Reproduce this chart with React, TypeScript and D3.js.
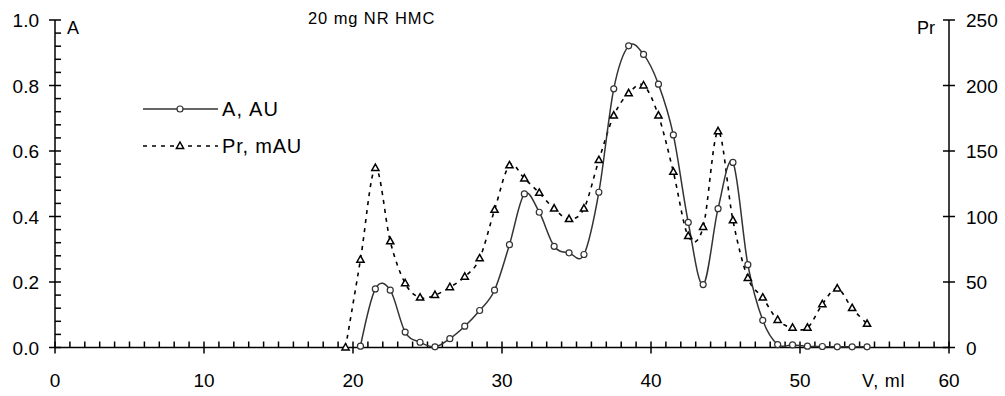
import { useEffect, useRef } from "react";
import * as d3 from "d3";

// elution volume (ml) of each absorbance reading
const volumeA = [
  20.5, 21.5, 22.5, 23.5, 24.5, 25.5, 26.5, 27.5, 28.5, 29.5, 30.5, 31.5,
  32.5, 33.5, 34.5, 35.5, 36.5, 37.5, 38.5, 39.5, 40.5, 41.5, 42.5, 43.5,
  44.5, 45.5, 46.5, 47.5, 48.5, 49.5, 50.5, 51.5, 52.5, 53.5, 54.5,
];
const absorbance = [
  0.004, 0.179, 0.175, 0.047, 0.016, 0.002, 0.027, 0.065, 0.113, 0.175,
  0.314, 0.469, 0.413, 0.309, 0.289, 0.284, 0.474, 0.79, 0.921, 0.895,
  0.804, 0.649, 0.382, 0.192, 0.424, 0.565, 0.253, 0.083, 0.009, 0.008,
  0.004, 0.003, 0.002, 0.002, 0.002,
];

// elution volume (ml) of each protein reading
const volumePr = [
  19.5, 20.5, 21.5, 22.5, 23.5, 24.5, 25.5, 26.5, 27.5, 28.5, 29.5, 30.5,
  31.5, 32.5, 33.5, 34.5, 35.5, 36.5, 37.5, 38.5, 39.5, 40.5, 41.5, 42.5,
  43.5, 44.5, 45.5, 46.5, 47.5, 48.5, 49.5, 50.5, 51.5, 52.5, 53.5, 54.5,
];
const protein = [
  0, 67, 137, 81, 49, 38, 40, 46, 54, 68, 105, 139, 129, 118, 106, 98, 106,
  143, 177, 194, 200, 177, 134, 85, 92, 165, 97, 53, 38, 21, 15, 15, 33, 45,
  30, 18,
];

const xTicks = [0, 10, 20, 30, 40, 50, 60];
const leftTicks = [0, 0.2, 0.4, 0.6, 0.8, 1.0];
const rightTicks = [0, 50, 100, 150, 200, 250];

const W = 1005;
const H = 396;
const FONT = "'Liberation Sans', Arial, sans-serif";
const DASH = "4,5";

export default function App() {
  const svgRef = useRef<SVGSVGElement>(null);

  useEffect(() => {
    document.body.style.margin = "0";
    const svg = d3.select(svgRef.current);
    svg.selectAll("*").remove();

    const x = d3.scaleLinear().domain([0, 60]).range([55, 949]);
    const yA = d3.scaleLinear().domain([0, 1]).range([347.5, 20]);
    const yPr = d3.scaleLinear().domain([0, 250]).range([347.5, 20]);
    const [x0, x1] = x.range();
    const y0 = yA(0);
    const yTop = yA(1);

    const axes = svg.append("g").attr("stroke", "#000").attr("stroke-width", 1.5);

    // axis lines
    axes.append("line").attr("x1", x0).attr("x2", x1).attr("y1", y0).attr("y2", y0);
    axes.append("line").attr("x1", x0).attr("x2", x0).attr("y1", yTop).attr("y2", y0);
    axes.append("line").attr("x1", x1).attr("x2", x1).attr("y1", yTop).attr("y2", y0);

    // x ticks: minor every 1 ml upward, major every 10 across
    d3.range(0, 61, 1).forEach(v => {
      const major = v % 10 === 0;
      axes.append("line")
        .attr("x1", x(v)).attr("x2", x(v))
        .attr("y1", y0 - 6).attr("y2", major ? y0 + 6 : y0);
    });

    // left ticks: minor every 0.04 inward, major every 0.2 across
    d3.range(0, 26).forEach(i => {
      const v = i * 0.04;
      const major = i % 5 === 0;
      axes.append("line")
        .attr("x1", major ? x0 - 6 : x0).attr("x2", x0 + 6)
        .attr("y1", yA(v)).attr("y2", yA(v));
    });

    // right ticks
    rightTicks.forEach(v => {
      axes.append("line")
        .attr("x1", x1 - 6).attr("x2", x1 + 6)
        .attr("y1", yPr(v)).attr("y2", yPr(v));
    });

    const text = svg.append("g")
      .attr("font-family", FONT)
      .attr("fill", "#000");

    xTicks.forEach(v => {
      text.append("text")
        .attr("x", x(v)).attr("y", 387)
        .attr("text-anchor", "middle")
        .attr("font-size", 19)
        .text(v);
    });

    leftTicks.forEach(v => {
      text.append("text")
        .attr("x", 39).attr("y", yA(v) + 7)
        .attr("text-anchor", "end")
        .attr("font-size", 19)
        .text(d3.format(".1f")(v));
    });

    rightTicks.forEach(v => {
      text.append("text")
        .attr("x", 966).attr("y", yPr(v) + 7)
        .attr("font-size", 19)
        .text(v);
    });

    text.append("text").attr("x", 67).attr("y", 34).attr("font-size", 18).text("A");
    text.append("text").attr("x", 917).attr("y", 34).attr("font-size", 18).text("Pr");
    text.append("text").attr("x", 862).attr("y", 387).attr("font-size", 18)
      .attr("letter-spacing", 0.8).text("V, ml");
    text.append("text").attr("x", 308).attr("y", 24).attr("font-size", 16.5)
      .attr("letter-spacing", 0.9).text("20 mg NR HMC");

    const line = d3.line<[number, number]>().curve(d3.curveCardinal.tension(0));

    const ptsPr: [number, number][] = volumePr.map((v, i) => [x(v), yPr(protein[i])]);
    const ptsA: [number, number][] = volumeA.map((v, i) => [x(v), yA(absorbance[i])]);

    svg.append("path")
      .attr("d", line(ptsPr))
      .attr("fill", "none")
      .attr("stroke", "#000")
      .attr("stroke-width", 1.6)
      .attr("stroke-dasharray", DASH);

    svg.append("path")
      .attr("d", line(ptsA))
      .attr("fill", "none")
      .attr("stroke", "#333")
      .attr("stroke-width", 1.5);

    const tri = "M0,-4L3.6,2.4L-3.6,2.4Z";

    svg.append("g")
      .selectAll("path")
      .data(ptsPr)
      .join("path")
      .attr("d", tri)
      .attr("transform", d => `translate(${d[0]},${d[1]})`)
      .attr("fill", "#fff")
      .attr("stroke", "#000")
      .attr("stroke-width", 1.5);

    svg.append("g")
      .selectAll("circle")
      .data(ptsA)
      .join("circle")
      .attr("cx", d => d[0])
      .attr("cy", d => d[1])
      .attr("r", 3)
      .attr("fill", "#fff")
      .attr("stroke", "#333")
      .attr("stroke-width", 1.2);

    // legend
    const legend = svg.append("g");
    legend.append("line")
      .attr("x1", 143).attr("x2", 218).attr("y1", 109).attr("y2", 109)
      .attr("stroke", "#333").attr("stroke-width", 1.5);
    legend.append("circle")
      .attr("cx", 180).attr("cy", 109).attr("r", 3)
      .attr("fill", "#fff").attr("stroke", "#333").attr("stroke-width", 1.2);
    legend.append("line")
      .attr("x1", 143).attr("x2", 218).attr("y1", 146).attr("y2", 146)
      .attr("stroke", "#000").attr("stroke-width", 1.6)
      .attr("stroke-dasharray", DASH);
    legend.append("path")
      .attr("d", tri)
      .attr("transform", "translate(180,146)")
      .attr("fill", "#fff").attr("stroke", "#000").attr("stroke-width", 1.5);
    legend.append("text")
      .attr("x", 222).attr("y", 116)
      .attr("font-family", FONT).attr("font-size", 20)
      .attr("letter-spacing", 1.2)
      .text("A, AU");
    legend.append("text")
      .attr("x", 222).attr("y", 153)
      .attr("font-family", FONT).attr("font-size", 20)
      .attr("letter-spacing", 0.8)
      .text("Pr, mAU");
  }, []);

  return (
    <svg
      ref={svgRef}
      width={W}
      height={H}
      viewBox={`0 0 ${W} ${H}`}
      style={{ display: "block", background: "#fff" }}
    ></svg>
  );
}
